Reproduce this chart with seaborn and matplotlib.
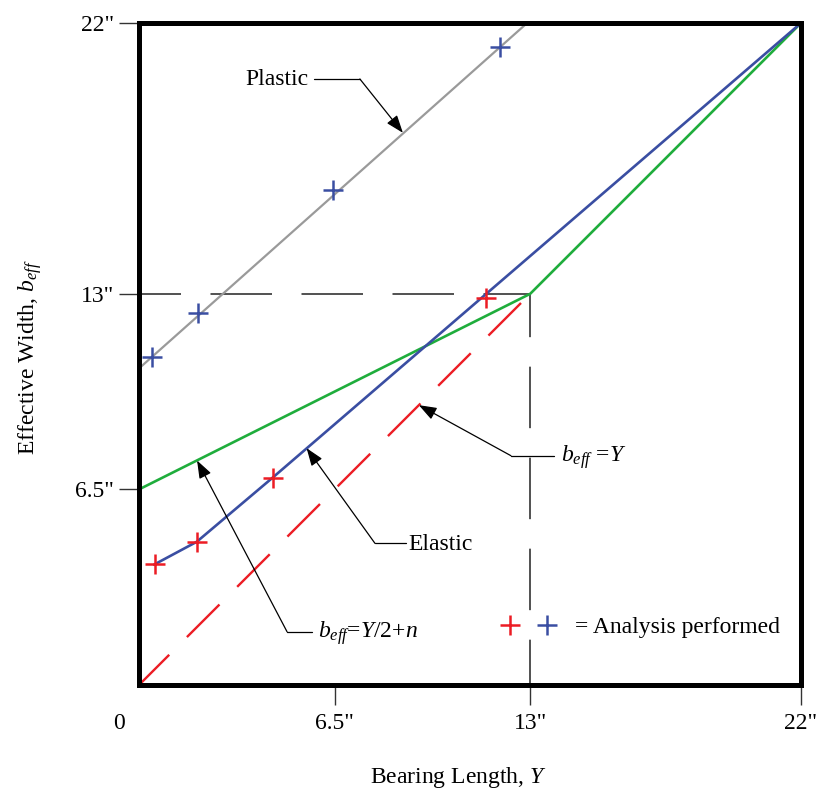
import matplotlib
matplotlib.use("Agg")
import matplotlib.pyplot as plt
import seaborn as sns
from matplotlib.transforms import offset_copy

# ---------------- data ----------------
plastic_line_x = [0.0, 12.9]
plastic_line_y = [10.52, 22.0]
plastic_pts_x = [0.44, 1.95, 6.46, 12.0]
plastic_pts_y = [10.91, 12.35, 16.45, 21.21]

elastic_x = [0.5, 1.92, 4.44, 22.0]
elastic_y = [4.0, 4.76, 6.89, 22.0]
elastic_pts_x = [0.53, 1.92, 4.44, 11.53]
elastic_pts_y = [4.01, 4.76, 6.89, 12.87]

approx_x = [0.0, 13.0, 22.0]      # b_eff = Y/2 + n, then to 22
approx_y = [6.5, 13.0, 22.0]

equal_x = [0.0, 13.0]             # b_eff = Y
equal_y = [0.0, 13.0]

guide_h_x = [0.0, 13.0]
guide_h_y = [13.0, 13.0]
guide_v_x = [13.0, 13.0]
guide_v_y = [13.0, 0.0]

x_ticks = [6.5, 13, 22]
x_tick_labels = ['6.5"', '13"', '22"']
y_ticks = [6.5, 13, 22]
y_tick_labels = ['6.5"', '13"', '22"']

RED = '#ec1c24'
BLUE = '#3a4ea2'
GREEN = '#1fad3c'
GRAY = '#9a9a9a'
DARK = '#333333'

sns.set_theme(style="white")
plt.rcParams['font.family'] = ['Liberation Serif', 'DejaVu Serif']
plt.rcParams['mathtext.fontset'] = 'custom'
plt.rcParams['mathtext.rm'] = 'Liberation Serif'
plt.rcParams['mathtext.it'] = 'Liberation Serif:italic'
plt.rcParams['mathtext.bf'] = 'Liberation Serif:bold'
plt.rcParams['text.color'] = 'black'
plt.rcParams['axes.labelcolor'] = 'black'
plt.rcParams['xtick.color'] = 'black'
plt.rcParams['ytick.color'] = 'black'

fig = plt.figure(figsize=(8.24, 7.92), dpi=100)
ax = fig.add_axes([139/824, 107/792, 662/824, 662/792])

# guides
sns.lineplot(x=guide_h_x, y=guide_h_y, ax=ax, color=DARK, lw=1.2, estimator=None, sort=False)
ax.lines[-1].set_linestyle((11.7, (36.9, 17.7)))
sns.lineplot(x=guide_v_x, y=guide_v_y, ax=ax, color=DARK, lw=1.2, estimator=None, sort=False)
ax.lines[-1].set_linestyle((11.0, (36.9, 17.7)))

# lines
sns.lineplot(x=plastic_line_x, y=plastic_line_y, ax=ax, color=GRAY, lw=1.6, estimator=None, sort=False)
sns.lineplot(x=approx_x, y=approx_y, ax=ax, color=GREEN, lw=1.9, estimator=None, sort=False)
sns.lineplot(x=elastic_x, y=elastic_y, ax=ax, color=BLUE, lw=1.9, estimator=None, sort=False)
sns.lineplot(x=equal_x, y=equal_y, ax=ax, color=RED, lw=1.7, estimator=None, sort=False)
ax.lines[-1].set_linestyle((1.4, (19.5, 10.6)))

# analysis markers
sns.scatterplot(x=plastic_pts_x, y=plastic_pts_y, ax=ax, marker='+', s=210,
                color=BLUE, linewidth=1.8, zorder=5)
sns.scatterplot(x=elastic_pts_x, y=elastic_pts_y, ax=ax, marker='+', s=210,
                color=RED, linewidth=1.8, zorder=5)

ax.set_xlim(0, 22)
ax.set_ylim(0, 22)
ax.set_xticks(x_ticks)
ax.set_xticklabels(x_tick_labels)
ax.set_yticks(y_ticks)
ax.set_yticklabels(y_tick_labels)
ax.tick_params(axis='both', direction='out', length=14.4, width=1.0, color=DARK,
               labelsize=17, labelcolor='black', bottom=True, left=True)
ax.tick_params(axis='x', pad=5.5)
ax.tick_params(axis='y', pad=3.6)
ax.grid(False)
for sp in ax.spines.values():
    sp.set_visible(True)
    sp.set_color('black')
    sp.set_linewidth(3.6)
    sp.set_zorder(10)

# "0" label at origin
ax.text(-0.65, 0, '0', fontsize=17, ha='center', va='top',
        transform=offset_copy(ax.transData, fig=fig, x=0, y=-20.3, units='points'))

ax.set_xlabel('Bearing Length, $Y$', fontsize=17, color='black')
ax.set_ylabel('Effective Width, $b_{eff}$', fontsize=17, color='black')
ax.xaxis.set_label_coords((458-139)/662, -(777-685)/662)
ax.yaxis.set_label_coords(-(139-30)/662, (685-357)/662)
ax.xaxis.label.set_va('center')
ax.yaxis.label.set_va('center')

# annotations
arrow = dict(arrowstyle='-|>,head_length=0.6,head_width=0.22', color='black', lw=0.9,
             shrinkA=0, shrinkB=0, mutation_scale=18)

# Plastic
ax.text(5.63, 19.94, 'Plastic', fontsize=17, ha='right', va='baseline')
ax.plot([5.82, 7.34], [20.14, 20.14], color='black', lw=0.9)
ax.annotate('', xy=(8.77, 18.35), xytext=(7.34, 20.14), arrowprops=arrow)

# b_eff = Y
ax.text(14.02, 7.42, '$b_{eff}$ =$Y$', fontsize=17, ha='left', va='baseline')
ax.plot([12.36, 13.79], [7.62, 7.62], color='black', lw=0.9)
ax.annotate('', xy=(9.3, 9.3), xytext=(12.36, 7.62), arrowprops=arrow)

# Elastic
ax.text(8.94, 4.49, 'Elastic', fontsize=17, ha='left', va='baseline')
ax.plot([7.84, 8.87], [4.71, 4.71], color='black', lw=0.9)
ax.annotate('', xy=(5.57, 7.87), xytext=(7.84, 4.71), arrowprops=arrow)

# b_eff = Y/2 + n
ax.text(5.96, 1.56, '$b_{eff}$=$Y$/2+$n$', fontsize=17, ha='left', va='baseline')
ax.plot([4.92, 5.75], [1.77, 1.77], color='black', lw=0.9)
ax.annotate('', xy=(1.93, 7.46), xytext=(4.92, 1.77), arrowprops=arrow)

# key
ax.plot([12.33], [1.99], marker='+', ms=14.5, mew=1.8, color=RED, ls='none')
ax.plot([13.55], [1.99], marker='+', ms=14.5, mew=1.8, color=BLUE, ls='none')
ax.text(14.49, 1.73, '= Analysis performed', fontsize=17, ha='left', va='baseline')

fig.savefig('out.png', dpi=100)
